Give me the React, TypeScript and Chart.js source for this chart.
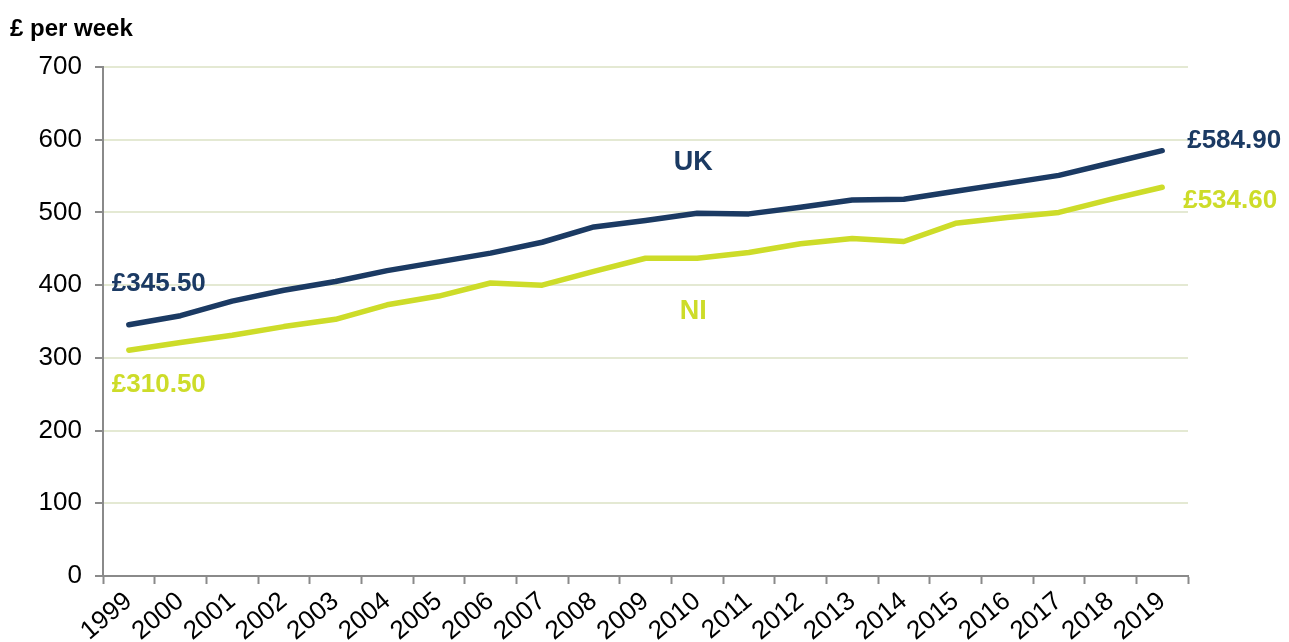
import React, { useEffect, useRef } from "react";
import { Chart, registerables } from "chart.js";

Chart.register(...registerables);

const years = ["1999","2000","2001","2002","2003","2004","2005","2006","2007","2008","2009","2010","2011","2012","2013","2014","2015","2016","2017","2018","2019"];
const ukValues = [345.5, 358, 378, 393, 405, 420, 432, 444, 459, 480, 489, 499, 498, 507, 517, 518, 529, 540, 551, 568, 584.9];
const niValues = [310.5, 321, 331, 343, 353, 373, 385, 403, 400, 419, 437, 437, 445, 457, 464, 460, 485, 493, 500, 518, 534.6];
const yTicks = [0, 100, 200, 300, 400, 500, 600, 700];

const UK_COLOR = "#1b3a63";
const NI_COLOR = "#cddc29";
const GRID_COLOR = "#e4e9d3";
const AXIS_COLOR = "#8a8a8a";
const FONT = "Arial, 'Liberation Sans', sans-serif";

const annotationPlugin = {
  id: "annotations",
  afterDraw(chart: any) {
    const ctx = chart.ctx;
    const x = chart.scales.x;
    const y = chart.scales.y;
    const last = years.length - 1;
    ctx.save();
    // title
    ctx.fillStyle = "#000";
    ctx.font = `bold 24px ${FONT}`;
    ctx.textAlign = "left";
    ctx.textBaseline = "alphabetic";
    ctx.fillText("£ per week", 10, 36);
    ctx.textBaseline = "middle";
    // series names
    ctx.font = `bold 27px ${FONT}`;
    ctx.textAlign = "center";
    ctx.fillStyle = UK_COLOR;
    ctx.fillText("UK", x.getPixelForValue(11) - 4, 163);
    ctx.fillStyle = NI_COLOR;
    ctx.fillText("NI", x.getPixelForValue(11) - 4, 312);
    // value labels
    ctx.font = `bold 26px ${FONT}`;
    ctx.textAlign = "left";
    ctx.fillStyle = UK_COLOR;
    ctx.fillText("£" + ukValues[0].toFixed(2), x.getPixelForValue(0) - 17, y.getPixelForValue(ukValues[0]) - 41);
    ctx.fillText("£" + ukValues[last].toFixed(2), x.getPixelForValue(last) + 25, y.getPixelForValue(ukValues[last]) - 10);
    ctx.fillStyle = NI_COLOR;
    ctx.fillText("£" + niValues[0].toFixed(2), x.getPixelForValue(0) - 17, y.getPixelForValue(niValues[0]) + 35);
    ctx.fillText("£" + niValues[last].toFixed(2), x.getPixelForValue(last) + 21, y.getPixelForValue(niValues[last]) + 14);
    ctx.restore();
  },
};

export default function App() {
  const ref = useRef<HTMLCanvasElement | null>(null);
  useEffect(() => {
    if (!ref.current) return;
    const chart = new Chart(ref.current, {
      type: "line",
      data: {
        labels: years,
        datasets: [
          { label: "UK", data: ukValues, borderColor: UK_COLOR, borderWidth: 5.5, pointRadius: 0, tension: 0, borderCapStyle: "round", borderJoinStyle: "round" },
          { label: "NI", data: niValues, borderColor: NI_COLOR, borderWidth: 5.5, pointRadius: 0, tension: 0, borderCapStyle: "round", borderJoinStyle: "round" },
        ],
      },
      options: {
        animation: false,
        responsive: true,
        maintainAspectRatio: false,
        layout: { padding: { left: 0, right: 101, top: 67, bottom: 0 } },
        plugins: { legend: { display: false }, tooltip: { enabled: false } },
        scales: {
          x: {
            type: "category",
            offset: true,
            grid: { offset: true, drawOnChartArea: false, tickLength: 8, tickColor: AXIS_COLOR, tickWidth: 2 },
            border: { color: AXIS_COLOR, width: 2 },
            ticks: { color: "#000", font: { family: FONT, size: 26 }, minRotation: 40, maxRotation: 40, autoSkip: false, padding: 2 },
            afterFit: (scale: any) => { scale.height = 66; },
          },
          y: {
            min: 0,
            max: 700,
            afterBuildTicks: (scale: any) => { scale.ticks = yTicks.map((v) => ({ value: v })); },
            grid: { color: GRID_COLOR, lineWidth: 2, tickLength: 8, tickColor: AXIS_COLOR, tickWidth: 2 },
            border: { color: AXIS_COLOR, width: 2 },
            ticks: { color: "#000", font: { family: FONT, size: 26 }, padding: 13 },
            afterFit: (scale: any) => { scale.width = 103; },
          },
        },
      },
      plugins: [annotationPlugin],
    } as any);
    return () => chart.destroy();
  }, []);
  return (
    <div style={{ position: "fixed", left: 0, top: 0, width: 1289, height: 642, background: "#fff" }}>
      <canvas ref={ref} />
    </div>
  );
}
